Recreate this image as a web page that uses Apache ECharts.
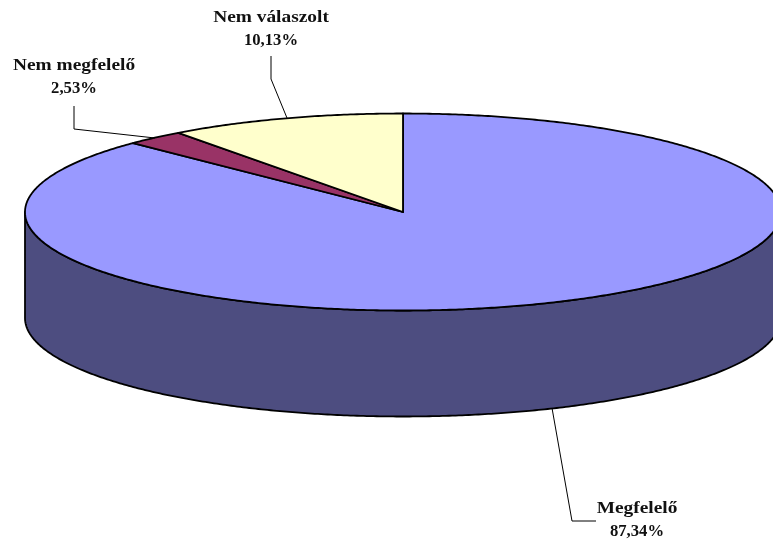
<!DOCTYPE html>
<html>
<head>
<meta charset="utf-8">
<style>html,body{margin:0;padding:0;background:#fff}#chart{width:773px;height:545px}</style>
<script src="https://cdn.jsdelivr.net/npm/echarts@6/dist/echarts.min.js"></script>
</head>
<body>
<div id="chart"></div>
<script>
// Survey result shares, in drawing order clockwise from 12 o'clock
var categories = ['Megfelelő', 'Nem megfelelő', 'Nem válaszolt'];
var shares = [87.34, 2.53, 10.13];

var topColors = ['#9999FF', '#993366', '#FFFFCC'];
var sideColors = ['#4D4D80', '#4D1A33', '#808066'];

// Geometry of the tilted disc
var disc = { cx: 403, cy: 212, rx: 378, ry: 98.5, depth: 106 };

// Label anchors and their leader lines, one entry per category
var callouts = [
  { x: 637, y: 509, line: [[552, 408], [572, 521], [596, 521]] },
  { x: 74, y: 66, line: [[74, 106], [74, 129], [155, 138]] },
  { x: 271, y: 18, line: [[271, 56], [271, 79], [287, 118]] }
];

var total = shares.reduce(function (a, b) { return a + b; }, 0);

function rimPoint(deg, drop) {
  var t = deg * Math.PI / 180;
  return [disc.cx + disc.rx * Math.sin(t), disc.cy - disc.ry * Math.cos(t) + (drop || 0)];
}

function arc(from, to, drop) {
  var pts = [];
  var n = Math.max(2, Math.ceil((to - from) * 2));
  for (var i = 0; i <= n; i++) pts.push(rimPoint(from + (to - from) * i / n, drop));
  return pts;
}

// A centred caption line; scaleX widens the face to a Garamond-like set width
function caption(text, x, y, scaleX) {
  return {
    type: 'text',
    x: x, y: y, scaleX: scaleX,
    style: {
      text: text, x: 0, y: 0, align: 'center', verticalAlign: 'middle',
      font: 'bold 17px "Liberation Serif", serif', fill: '#111'
    }
  };
}

function renderSlice(params, api) {
  var i = params.dataIndex;
  var start = 0;
  for (var k = 0; k < i; k++) start += shares[k];
  var a0 = start / total * 360;
  var a1 = a0 + api.value(0) / total * 360;
  var edge = { stroke: '#000', lineWidth: 1.8, lineJoin: 'round' };
  var kids = [];

  // Only the front half of the rim (90° to 270°) shows its wall
  var s0 = Math.max(a0, 90), s1 = Math.min(a1, 270);
  if (s1 > s0) {
    var wall = arc(s0, s1, 0).concat(arc(s0, s1, disc.depth).reverse());
    kids.push({
      type: 'polygon', shape: { points: wall },
      style: Object.assign({ fill: sideColors[i] }, edge)
    });
  }

  kids.push({
    type: 'polygon',
    shape: { points: [[disc.cx, disc.cy]].concat(arc(a0, a1, 0)) },
    style: Object.assign({ fill: topColors[i] }, edge)
  });

  var c = callouts[i];
  kids.push({
    type: 'polyline', shape: { points: c.line },
    style: { fill: null, stroke: '#000', lineWidth: 1 }
  });

  kids.push(caption(categories[i], c.x, c.y, 1.14));
  kids.push(caption(api.value(0).toFixed(2).replace('.', ',') + '%', c.x, c.y + 23, 0.98));
  return { type: 'group', children: kids };
}

var chart = echarts.init(document.getElementById('chart'));
chart.setOption({
  animation: false,
  backgroundColor: '#fff',
  series: [{
    type: 'custom',
    coordinateSystem: 'none',
    silent: true,
    renderItem: renderSlice,
    data: shares.map(function (v, i) { return { name: categories[i], value: [v] }; })
  }]
});
</script>
</body>
</html>
